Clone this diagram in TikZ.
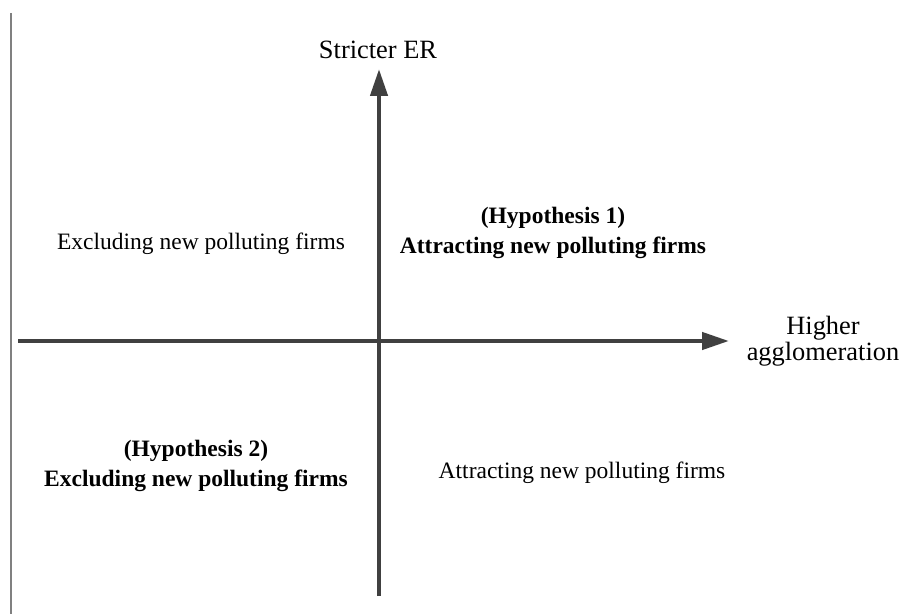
\documentclass[tikz,border=0pt]{standalone}
\usepackage{fontspec}
\setmainfont{Liberation Serif}
\usepackage{xcolor}
\usepackage{tikz}
\usetikzlibrary{arrows.meta, positioning}

\definecolor{axisgray}{HTML}{404040}
\definecolor{framegray}{HTML}{808080}

\begin{document}
\begin{tikzpicture}[x=0.5pt, y=-0.5pt,
            label/.style={font=\fontsize{11.75}{15}\selectfont, text=black, inner sep=0pt, align=center},
            hypo/.style={label, font=\fontsize{11.75}{15}\selectfont\bfseries},
            axislabel/.style={font=\fontsize{13.2}{11}\selectfont, text=black, inner sep=0pt, align=center},
            axis/.style={line width=2.2pt, draw=axisgray, -{Triangle[length=13.5pt, width=8.5pt]}}]

            \useasboundingbox (0,0) rectangle (903,614);

            % Left border line
            \draw [framegray, line width=1pt] (11,13) -- (11,614);

            % Axis end points
            \coordinate (west) at (18,341);
            \coordinate (east) at (729,341);
            \coordinate (south) at (379,596);
            \coordinate (north) at (379,69);

            % Nodes
            \node (er) [axislabel] at (378,50) {Stricter ER};
            \node (agglo) [axislabel] at (823,341) {Higher\\agglomeration};
            \node (exclude) [label] at (201,244) {Excluding new polluting firms};
            \node (hypone) [hypo] at (553,233) {(Hypothesis 1)\\Attracting new polluting firms};
            \node (hyptwo) [hypo] at (196,466) {(Hypothesis 2)\\Excluding new polluting firms};
            \node (attract) [label] at (582,473) {Attracting new polluting firms};

            % Arrows
            \draw [axis] (west) -- (east);
            \draw [axis] (south) -- (north);
\end{tikzpicture}
\end{document}
